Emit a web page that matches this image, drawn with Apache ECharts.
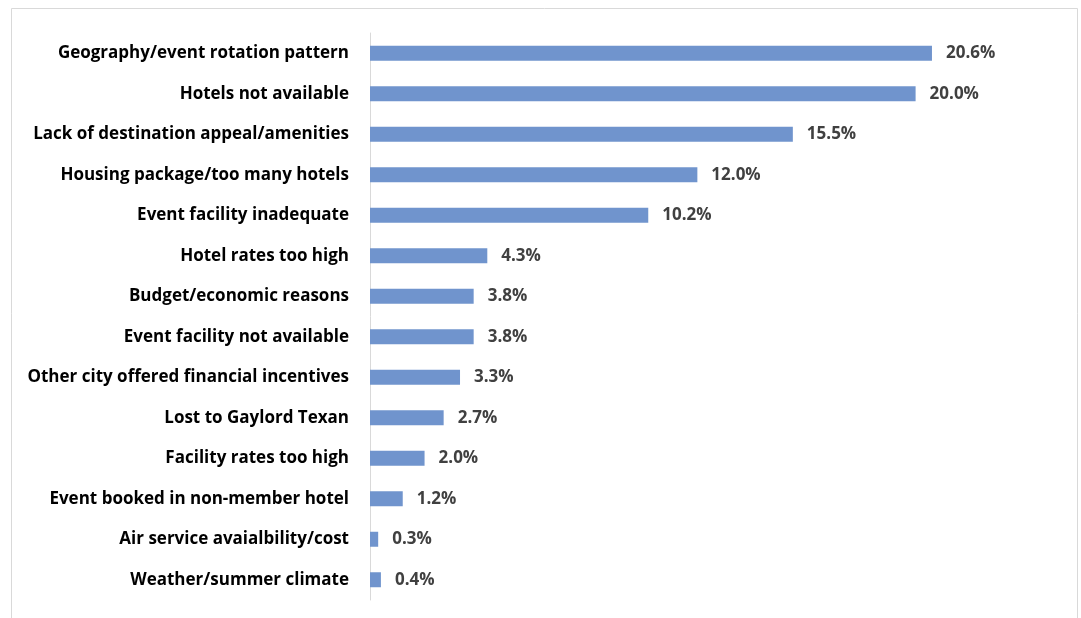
<!DOCTYPE html>
<html>
<head>
<meta charset="utf-8">
<script src="https://cdn.jsdelivr.net/npm/echarts@6/dist/echarts.min.js"></script>
<style>html,body{margin:0;padding:0;background:#fff;}#c{width:1081px;height:618px;}</style>
</head>
<body>
<div id="c"></div>
<script>
const categories = [
  "Geography/event rotation pattern",
  "Hotels not available",
  "Lack of destination appeal/amenities",
  "Housing package/too many hotels",
  "Event facility inadequate",
  "Hotel rates too high",
  "Budget/economic reasons",
  "Event facility not available",
  "Other city offered financial incentives",
  "Lost to Gaylord Texan",
  "Facility rates too high",
  "Event booked in non-member hotel",
  "Air service avaialbility/cost",
  "Weather/summer climate"
];
const values = [20.6, 20.0, 15.5, 12.0, 10.2, 4.3, 3.8, 3.8, 3.3, 2.7, 2.0, 1.2, 0.3, 0.4];

const chart = echarts.init(document.getElementById('c'), null, {renderer: 'canvas'});
const FONT = 'Open Sans';
chart.setOption({
  animation: false,
  backgroundColor: '#ffffff',
  graphic: [{
    type: 'rect',
    shape: {x: 11.5, y: 8.5, width: 1066, height: 620},
    style: {fill: 'none', stroke: '#d9d9d9', lineWidth: 1},
    silent: true
  }],
  grid: {left: 370, top: 33, width: 682, height: 567, containLabel: false},
  xAxis: {
    type: 'value', min: 0, max: 25,
    show: false
  },
  yAxis: {
    type: 'category', data: categories, inverse: true,
    axisLine: {show: true, lineStyle: {color: '#d9d9d9', width: 1}},
    axisTick: {show: false},
    axisLabel: {
      margin: 21, color: '#000000', fontFamily: FONT, fontWeight: 'bold', fontSize: 17
    }
  },
  series: [{
    type: 'bar',
    data: values,
    barWidth: 15,
    itemStyle: {color: '#7094CD'},
    label: {
      show: true, position: 'right', distance: 14,
      formatter: p => p.value.toFixed(1) + '%',
      color: '#404040', fontFamily: FONT, fontWeight: 'bold', fontSize: 17
    }
  }]
});
</script>
</body>
</html>
